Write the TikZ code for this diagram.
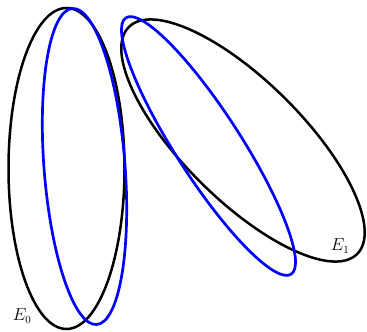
\documentclass[tikz,border=0pt]{standalone}
\tikzset{
  blackell/.style={draw=black, line width=2.5pt},
  blueell/.style={draw=blue, line width=2.7pt},
  lab/.style={inner sep=0pt, font=\fontsize{16}{19}\selectfont}
}
\begin{document}
\begin{tikzpicture}[x=1pt,y=1pt]
\useasboundingbox (0,0) rectangle (367,332);
% E0 black
\draw[blackell] (66.5,163.5) ellipse [x radius=58, y radius=160.5];
% E1 black
\draw[blackell] (243,191.5) ellipse [x radius=161, y radius=59.5, rotate=-44.8];
% blue ellipses
\draw[blueell] (84.5,165.5) ellipse [x radius=158.5, y radius=40.5, rotate=-85.6];
\draw[blueell] (208.5,186) ellipse [x radius=152.5, y radius=32.5, rotate=-57.2];
\node[lab] (e0) at (22,16) {$E_0$};
\node[lab] (e1) at (340,86) {$E_1$};
\end{tikzpicture}
\end{document}
